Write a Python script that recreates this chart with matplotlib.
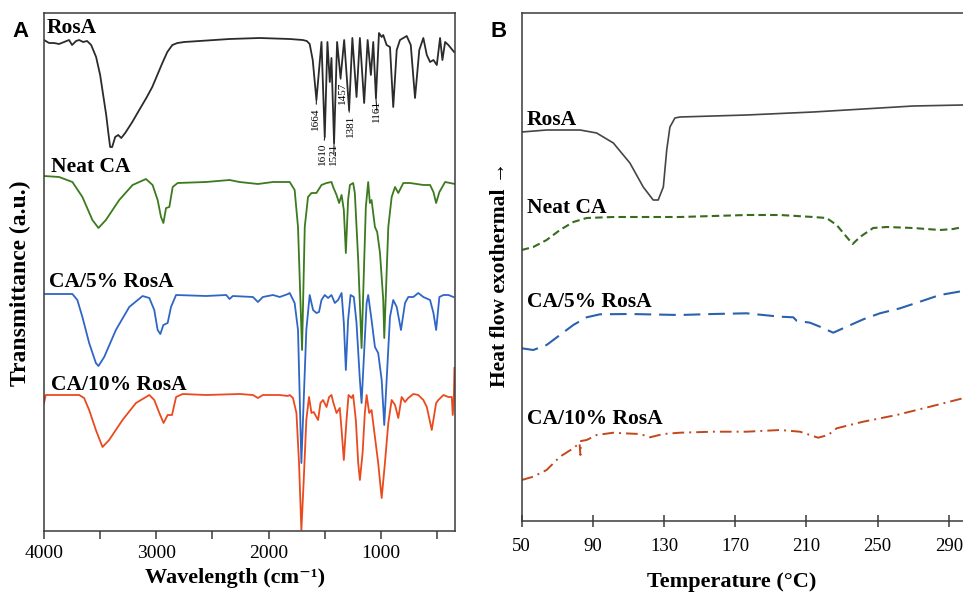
import matplotlib
matplotlib.use("Agg")
import matplotlib.pyplot as plt

plt.rcParams["font.family"] = ["Liberation Serif", "DejaVu Serif"]

# ---- panel A: FTIR spectra (wavenumber, transmittance a.u.) ----
ROSA_WN = [4000, 3955, 3911, 3866, 3821, 3777, 3750, 3714, 3687, 3652, 3616, 3580, 3536, 3500,
           3473, 3446, 3428, 3411, 3393, 3366, 3339, 3312, 3277, 3214, 3152, 3089, 3036, 2991,
           2946, 2902, 2857, 2812, 2750, 2616, 2348, 2080, 1812, 1696, 1660, 1634, 1607, 1574,
           1529, 1500, 1476, 1455, 1440, 1417, 1390, 1359, 1327, 1283, 1254, 1217, 1187, 1149,
           1118, 1089, 1068, 1044, 1017, 993, 979, 949, 919, 890, 859, 830, 770, 734, 696, 658,
           622, 591, 562, 532, 502, 473, 452, 428, 399, 348]
ROSA_T = [491, 488, 488, 487, 489, 491, 486, 490, 491, 489, 490, 486, 474, 456,
          436, 416, 399, 384, 384, 394, 396, 393, 398, 409, 421, 433, 444, 456,
          468, 479, 486, 488, 489, 490, 492, 493, 492, 491, 490, 487, 471, 431,
          489, 394, 489, 449, 473, 388, 489, 453, 491, 421, 493, 434, 493, 428,
          491, 456, 489, 433, 498, 494, 496, 486, 484, 424, 481, 491, 495, 486, 433, 481,
          493, 476, 469, 471, 466, 493, 471, 489, 486, 479]

NEAT_WN = [4000, 3866, 3747, 3658, 3569, 3515, 3449, 3330, 3211, 3092, 3033, 2988, 2958, 2937,
           2913, 2884, 2854, 2810, 2556, 2348, 2259, 2095, 1961, 1812, 1768, 1738, 1702, 1678,
           1649, 1618, 1574, 1529, 1484, 1440, 1425, 1395, 1372, 1350, 1330, 1312, 1292, 1276,
           1247, 1232, 1202, 1172, 1134, 1113, 1098, 1083, 1053, 1033, 1008, 979, 970, 934, 904,
           874, 845, 800, 741, 681, 622, 562, 532, 508, 479, 428, 384, 339]
NEAT_T = [355, 354, 349, 334, 311, 303, 311, 331, 346, 352, 346, 331, 314, 308,
          323, 324, 344, 348, 349, 351, 349, 347, 349, 349, 341, 304, 181, 304,
          334, 338, 338, 346, 348, 349, 344, 336, 328, 336, 321, 278, 331, 346,
          348, 338, 271, 183, 324, 349, 328, 331, 304, 299, 278, 231, 193, 304, 334,
          344, 338, 348, 348, 347, 346, 346, 339, 328, 339, 349, 348, 347]

CA5_WN = [4000, 3896, 3747, 3703, 3658, 3598, 3538, 3515, 3464, 3360, 3241, 3122, 3062, 3018,
          2988, 2964, 2937, 2899, 2869, 2824, 2556, 2377, 2348, 2318, 2140, 2095, 2051, 1961,
          1901, 1827, 1812, 1768, 1738, 1708, 1664, 1634, 1604, 1574, 1551, 1529, 1500, 1470,
          1440, 1410, 1381, 1350, 1330, 1312, 1292, 1270, 1241, 1217, 1187, 1172, 1127, 1113,
          1083, 1053, 1024, 993, 970, 919, 890, 859, 821, 785, 756, 711, 667, 622, 562, 532,
          508, 479, 443, 399, 354]
CA5_T = [237, 237, 237, 231, 214, 188, 168, 165, 174, 201, 224, 235, 233, 221,
         201, 197, 206, 208, 224, 236, 235, 236, 232, 235, 234, 229, 234, 236,
         234, 237, 238, 228, 201, 68, 201, 236, 221, 218, 219, 231, 236, 233,
         236, 228, 231, 238, 208, 161, 211, 236, 234, 208, 151, 128, 228, 236,
         211, 184, 178, 151, 106, 214, 231, 224, 201, 228, 234, 234, 238, 234, 231, 218,
         201, 234, 236, 236, 234]

CA10_WN = [4000, 3985, 3896, 3687, 3643, 3598, 3538, 3479, 3420, 3301, 3181, 3062, 3018, 2973,
           2935, 2899, 2860, 2824, 2765, 2556, 2259, 2140, 2095, 2051, 1901, 1827, 1812, 1783,
           1752, 1729, 1708, 1687, 1664, 1640, 1618, 1598, 1574, 1559, 1538, 1515, 1484, 1461,
           1440, 1425, 1395, 1366, 1350, 1330, 1306, 1288, 1261, 1247, 1223, 1202, 1187, 1163,
           1143, 1127, 1104, 1083, 1053, 1024, 993, 964, 934, 904, 874, 845, 815, 785, 756, 711,
           667, 622, 591, 547, 508, 488, 443, 399, 369, 360, 351, 345]
CA10_T = [128, 136, 136, 136, 133, 121, 101, 84, 91, 111, 128, 136, 131, 118,
          108, 116, 116, 134, 137, 136, 137, 136, 133, 136, 136, 135, 136, 133,
          118, 68, 1, 51, 111, 134, 118, 119, 114, 111, 128, 131, 124, 134,
          136, 129, 118, 123, 101, 71, 111, 136, 133, 136, 111, 68, 51, 78,
          118, 136, 118, 121, 94, 68, 33, 68, 108, 131, 126, 113, 134, 129, 133, 137,
          136, 131, 124, 101, 128, 131, 136, 134, 134, 116, 131, 163]

PEAK_TEXT = ["1664", "1610", "1521", "1457", "1381", "1161"]
PEAK_WN = [1574, 1500, 1417, 1359, 1283, 1044]
PEAK_DEPTH = [431, 394, 388, 453, 421, 433]
PEAK_LABEL_WN = [1580, 1522, 1419, 1343, 1275, 1035]
PEAK_LABEL_TOP = [424, 388, 388, 449, 416, 431]

# ---- panel B: DSC curves (temperature, heat flow a.u.) ----
DSC_ROSA_X = [50, 64, 82.8, 92.1, 101.5, 110.8, 118.3, 123.9, 126.7, 129.6, 131.5, 133.3, 136.1,
              138.9, 176.4, 213.8, 251.3, 270, 297.9]
DSC_ROSA_Y = [389, 391, 391, 388, 378, 358, 334, 321, 321, 334, 371, 394, 403,
              404, 406, 409, 413, 415, 416]

DSC_NEAT_X = [50, 56.5, 64, 71.5, 79, 86.5, 101.5, 138.9, 176.4, 195.2, 213.8, 221.3, 227,
              232.6, 236, 240.1, 247.5, 255.1, 270, 285, 292.5, 297.9]
DSC_NEAT_Y = [271, 274, 281, 291, 299, 303, 304, 304, 306, 306, 304, 303, 296,
              284, 277, 284, 293, 294, 293, 291, 292, 294]

DSC_CA5_X = [50, 56.5, 64, 71.5, 79, 86.5, 94, 110.8, 138.9, 157.6, 176.4, 185.7, 195.2, 202.6,
             204.5, 212, 217.6, 225.1, 232.6, 242, 251.3, 262.6, 273.8, 285, 297.9]
DSC_CA5_Y = [172.7, 171, 176, 186, 196, 203.7, 206.7, 207, 206, 207, 207.7, 206, 204.3, 203.7,
             200.3, 198.3, 194.3, 188.3, 194.3, 201.7, 207.7, 212.7, 219.3, 226, 230]

DSC_CA10_X = [50, 56.5, 64, 71.5, 79, 82.5, 83, 83.3, 86.5, 92.1, 101.5, 107.1, 116.5, 122.1,
              129.6, 138.9, 157.6, 176.4, 195.2, 206.4, 216.6, 222.2, 227, 241.9, 260.7, 279.4,
              297.9]
DSC_CA10_Y = [41, 44.3, 51, 64.3, 72.7, 78, 66, 80, 81, 86, 88.3, 87.7, 87, 83.7,
              87, 88.3, 89.3, 89.3, 91, 89.3, 83.3, 86, 92.7, 99.3, 106, 114.3, 122.7]

NAMES = ["RosA", "Neat CA", "CA/5% RosA", "CA/10% RosA"]
FTIR_COLORS = ["#2b2b2b", "#3c7a1e", "#2f66c6", "#ea4a1d"]
DSC_COLORS = ["#454545", "#386b1f", "#2b62ad", "#c2481c"]

FTIR_TICKS = [4000, 3500, 3000, 2500, 2000, 1500, 1000, 500]
FTIR_TICKLABELS = ["4000", "", "3000", "", "2000", "", "1000", ""]
DSC_TICKS = [50, 90, 130, 170, 210, 250, 290]

SPINE = "#3a3a3a"

fig = plt.figure(figsize=(9.63, 5.93), dpi=100)

# ---------------- panel A ----------------
axA = fig.add_axes([44 / 963, 62 / 593, 411 / 963, 518 / 593])
spectra = [(ROSA_WN, ROSA_T), (NEAT_WN, NEAT_T), (CA5_WN, CA5_T), (CA10_WN, CA10_T)]
for (wn, t), c in zip(spectra, FTIR_COLORS):
    axA.plot(wn, t, color=c, lw=1.3, solid_joinstyle="round")

axA.set_xlim(4000, 340)
axA.set_ylim(0, 518)
axA.set_yticks([])
axA.set_xticks(FTIR_TICKS)
axA.set_xticklabels(FTIR_TICKLABELS, fontsize=14)
axA.tick_params(axis="x", direction="out", length=6, width=1.1, color=SPINE, pad=4)
for s in axA.spines.values():
    s.set_color(SPINE)
    s.set_linewidth(1.1)

label_pos_A = [(3973, 498), (3937, 359), (3955, 244), (3937, 141)]
for name, (x, y) in zip(NAMES, label_pos_A):
    axA.text(x, y, name, fontsize=15.5, fontweight="bold", ha="left", va="baseline")

for txt, wn, depth, lx, ly in zip(PEAK_TEXT, PEAK_WN, PEAK_DEPTH, PEAK_LABEL_WN, PEAK_LABEL_TOP):
    axA.annotate(txt, xy=(wn, depth), xytext=(lx, ly), rotation=90,
                 ha="center", va="top", fontsize=8,
                 arrowprops=dict(arrowstyle="-", lw=0.8, color="#222222",
                                 shrinkA=0, shrinkB=0))

fig.text(20 / 963, 1 - 283 / 593, "Transmittance (a.u.)", rotation=90, fontsize=17,
         fontweight="bold", ha="center", va="center")
fig.text(235 / 963, 1 - 578 / 593, "Wavelength (cm\u207b\u00b9)", fontsize=16,
         fontweight="bold", ha="center", va="center")
fig.text(12 / 963, 1 - 37 / 593, "A", fontsize=16, fontweight="bold",
         family=["Liberation Sans", "DejaVu Sans"], ha="left", va="baseline")

# ---------------- panel B ----------------
axB = fig.add_axes([521.7 / 963, 72 / 593, 441.3 / 963, 508 / 593])
axB.plot(DSC_ROSA_X, DSC_ROSA_Y, color=DSC_COLORS[0], lw=1.2)
axB.plot(DSC_NEAT_X, DSC_NEAT_Y, color=DSC_COLORS[1], lw=1.5, dashes=(3.6, 2.0))
axB.plot(DSC_CA5_X, DSC_CA5_Y, color=DSC_COLORS[2], lw=1.5, dashes=(8, 3.8))
axB.plot(DSC_CA10_X, DSC_CA10_Y, color=DSC_COLORS[3], lw=1.4, dashes=(6, 2.6, 1, 2.6))

axB.set_xlim(50, 298)
axB.set_ylim(0, 508)
axB.set_yticks([])
axB.set_xticks(DSC_TICKS)
axB.tick_params(axis="x", direction="inout", length=9, width=1.1, color=SPINE,
                labelsize=13.5, pad=8)
axB.spines["right"].set_visible(False)
for s in ["left", "bottom", "top"]:
    axB.spines[s].set_color(SPINE)
    axB.spines[s].set_linewidth(1.1)

label_pos_B = [(52.8, 396), (52.8, 308), (52.8, 214), (52.8, 97)]
for name, (x, y) in zip(NAMES, label_pos_B):
    axB.text(x, y, name, fontsize=15.5, fontweight="bold", ha="left", va="baseline")

fig.text(500 / 963, 1 - 274 / 593, "Heat flow exothermal \u2192", rotation=90, fontsize=15.5,
         fontweight="bold", ha="center", va="center",
         family=["Liberation Serif", "DejaVu Sans"])
fig.text(731.7 / 963, 1 - 582 / 593, "Temperature (\u00b0C)", fontsize=16,
         fontweight="bold", ha="center", va="center")
fig.text(490 / 963, 1 - 37 / 593, "B", fontsize=16, fontweight="bold",
         family=["Liberation Sans", "DejaVu Sans"], ha="left", va="baseline")

fig.savefig("out.png", dpi=100, facecolor="white")
